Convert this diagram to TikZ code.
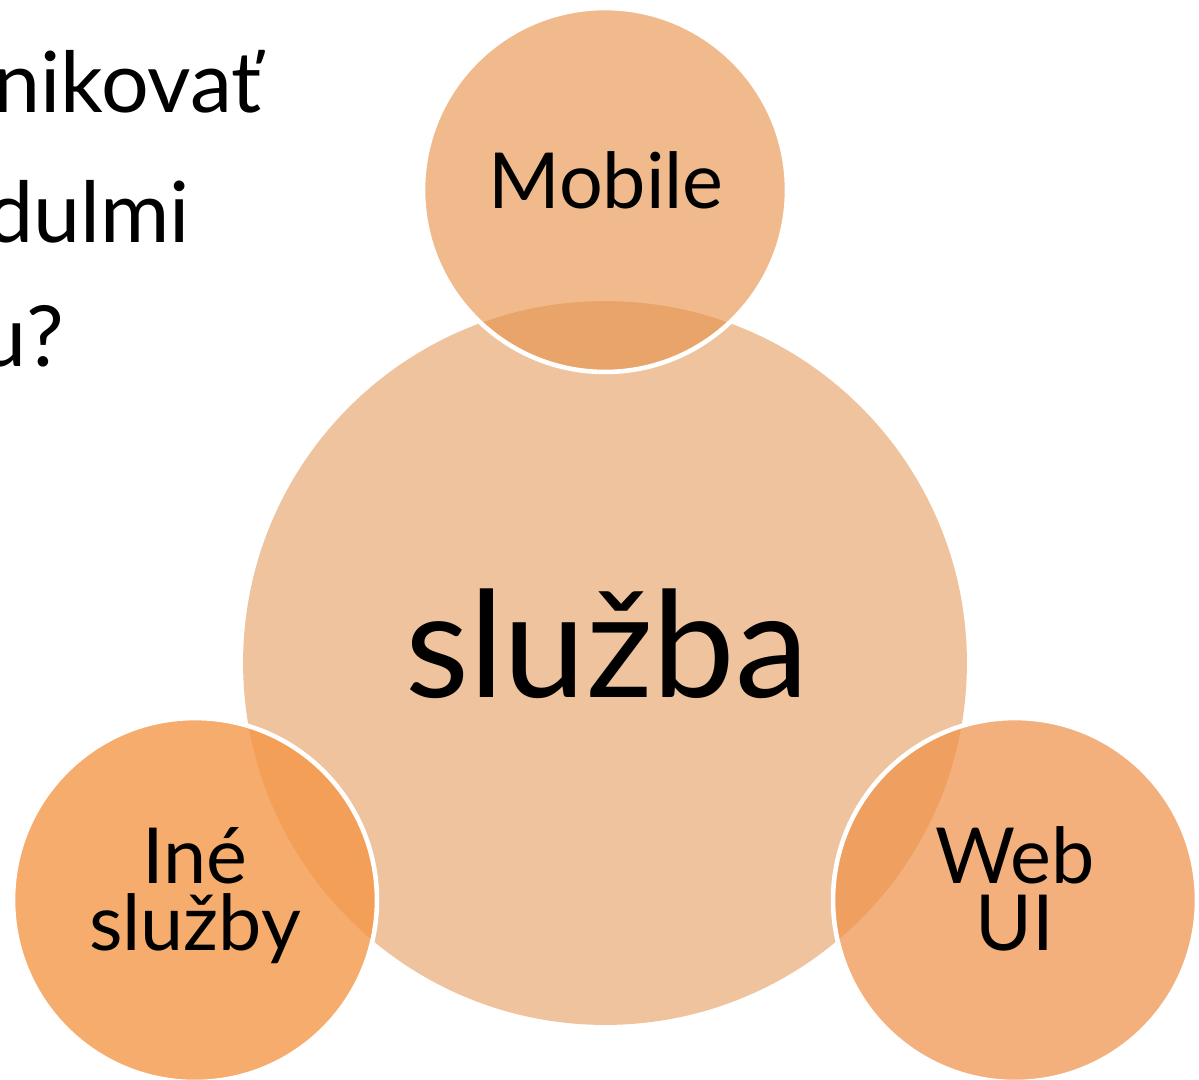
\documentclass[tikz,border=0pt]{standalone}
\usepackage{fontspec}
\setmainfont{Lato}
\usepackage{tikz}

\definecolor{bigfill}{HTML}{EEC39D}
\definecolor{mobfill}{HTML}{F0BA8C}
\definecolor{mobmix}{HTML}{E9A46A}
\definecolor{inefill}{HTML}{F6AC6C}
\definecolor{inemix}{HTML}{F49F58}
\definecolor{webfill}{HTML}{F3B07C}
\definecolor{webmix}{HTML}{EFA060}

\begin{document}
\begin{tikzpicture}[x=0.02cm,y=-0.02cm,
    bigdisc/.style={circle,inner sep=0pt,minimum size=14.48cm,fill=bigfill},
    disc/.style={circle,inner sep=0pt,minimum size=7.24cm},
    ring/.style={draw=white,line width=2.6pt},
    disclabel/.style={anchor=base,align=center,inner sep=0pt,
                 font=\fontsize{44}{38}\selectfont},
    textline/.style={anchor=base east,font=\fontsize{48}{48}\selectfont}]
\useasboundingbox (0,0) rectangle (1199,1079);
\clip (0,0) rectangle (1199,1079);
\node[textline] (t1) at (268,112) {nikovať};
\node[textline] (t2) at (196,242) {dulmi};
\node[textline] (t3) at (70,366) {u?};
\node[bigdisc] (sluzba) at (605,663) {};
\node[disc,fill=mobfill] (mobile) at (605,190) {};
\node[disc,fill=inefill] (ine) at (195,900) {};
\node[disc,fill=webfill] (web) at (1015,900) {};
% overlaps with the big circle
\begin{scope}
  \clip (mobile.center) circle[radius=3.62cm];
  \fill[mobmix] (sluzba.center) circle[radius=7.24cm];
\end{scope}
\begin{scope}
  \clip (ine.center) circle[radius=3.62cm];
  \fill[inemix] (sluzba.center) circle[radius=7.24cm];
\end{scope}
\begin{scope}
  \clip (web.center) circle[radius=3.62cm];
  \fill[webmix] (sluzba.center) circle[radius=7.24cm];
\end{scope}
\draw[ring] (mobile.center) circle[radius=3.64cm];
\draw[ring] (ine.center) circle[radius=3.64cm];
\draw[ring] (web.center) circle[radius=3.64cm];
% labels
\node[disclabel,font=\fontsize{84}{84}\selectfont] (sluzbatext) at (607,697) {služba};
\node[disclabel] (mobiletext) at (606,208) {Mobile};
\node[disclabel] (inetext) at (195,950) {Iné\\služby};
\node[disclabel] (webtext) at (1015,950) {Web\\UI};
\end{tikzpicture}
\end{document}
